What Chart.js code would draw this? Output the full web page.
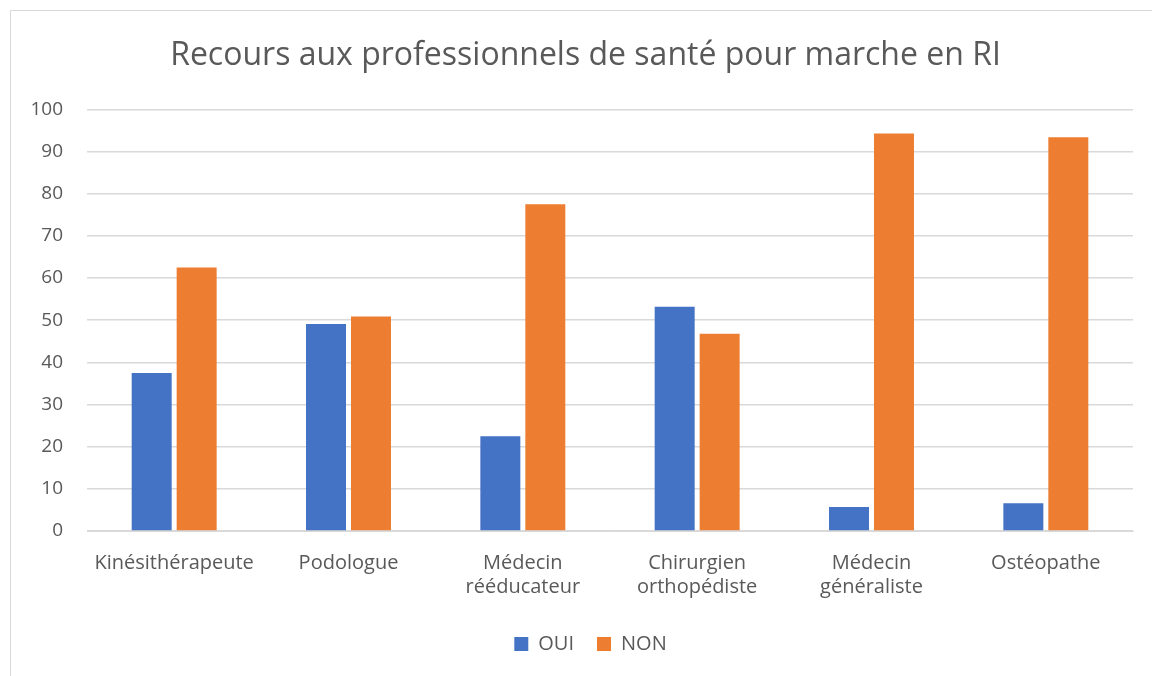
<!DOCTYPE html>
<html>
<head>
<meta charset="utf-8">
<script src="https://cdn.jsdelivr.net/npm/chart.js@4/dist/chart.umd.min.js"></script>
<style>
  body { margin: 0; background: #fff; }
  #wrap { position: relative; width: 1152px; height: 676px; overflow: hidden; }
  #frame { position: absolute; left: 10px; top: 10px; width: 1200px; height: 700px; border: 1px solid #d9d9d9; }
  canvas { position: absolute; left: 0; top: 0; }
</style>
</head>
<body>
<div id="wrap">
  <div id="frame"></div>
  <canvas id="chart" width="1152" height="676"></canvas>
</div>
<script>
  // Chart data
  const categories = [
    "Kinésithérapeute",
    "Podologue",
    ["Médecin", "rééducateur"],
    ["Chirurgien", "orthopédiste"],
    ["Médecin", "généraliste"],
    "Ostéopathe",
  ];
  const ouiValues = [37.5, 49.1, 22.5, 53.2, 5.7, 6.6];
  const nonValues = [62.5, 50.9, 77.5, 46.8, 94.3, 93.4];
  const yTicks = [0, 10, 20, 30, 40, 50, 60, 70, 80, 90, 100];

  const textColor = "#595959";
  const fontFamily = "'Open Sans', sans-serif";

  // title and legend sit a bit right of the canvas centre, like the original
  const shiftBlocks = {
    id: "shiftBlocks",
    afterLayout(chart) {
      const t = chart.titleBlock;
      if (t) {
        t.left += 17;
        t.right += 17;
      }
      const l = chart.legend;
      if (l) {
        l.left += 22;
        l.right += 22;
      }
    },
  };

  const ctx = document.getElementById("chart").getContext("2d");
  new Chart(ctx, {
    type: "bar",
    data: {
      labels: categories,
      datasets: [
        {
          label: "OUI",
          data: ouiValues,
          backgroundColor: "#4472C4",
          categoryPercentage: 0.516,
          barPercentage: 0.889,
        },
        {
          label: "NON",
          data: nonValues,
          backgroundColor: "#ED7D31",
          categoryPercentage: 0.516,
          barPercentage: 0.889,
        },
      ],
    },
    plugins: [shiftBlocks],
    options: {
      responsive: false,
      animation: false,
      layout: {
        padding: { left: 4, right: 19, top: 20, bottom: 12 },
      },
      plugins: {
        title: {
          display: true,
          text: "Recours aux professionnels de santé pour marche en RI",
          color: textColor,
          font: { family: fontFamily, size: 32, weight: "normal" },
          padding: { top: 17, bottom: 34 },
        },
        legend: {
          position: "bottom",
          labels: {
            color: textColor,
            font: { family: fontFamily, size: 20 },
            boxWidth: 14,
            boxHeight: 14,
            padding: 23,
          },
        },
        tooltip: { enabled: false },
      },
      scales: {
        x: {
          grid: { display: false },
          border: { color: "#d9d9d9" },
          ticks: {
            color: textColor,
            font: { family: fontFamily, size: 20 },
            maxRotation: 0,
            autoSkip: false,
            padding: 12,
          },
        },
        y: {
          min: 0,
          max: 100,
          afterBuildTicks: (axis) => {
            axis.ticks = yTicks.map((v) => ({ value: v }));
          },
          afterFit: (axis) => {
            axis.width = 83;
          },
          grid: { color: "#d9d9d9", lineWidth: 1.5, drawTicks: false },
          border: { display: false },
          ticks: {
            color: textColor,
            font: { family: fontFamily, size: 19 },
            padding: 24,
          },
        },
      },
    },
  });
</script>
</body>
</html>
